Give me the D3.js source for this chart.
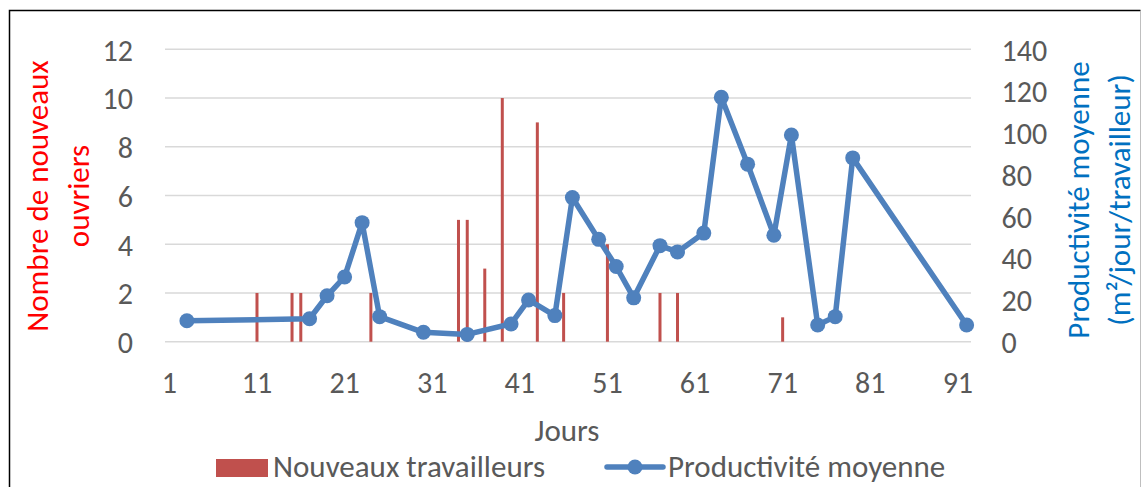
<!DOCTYPE html>
<html>
<head>
<meta charset="utf-8">
<script src="https://cdn.jsdelivr.net/npm/d3@7"></script>
<style>
  html, body { margin: 0; padding: 0; background: #fff; }
  svg { display: block; }
  text { font-family: Carlito, Lato, "Open Sans", sans-serif; }
</style>
</head>
<body>
<svg id="chart" width="1142" height="487"></svg>
<script>
// ---- data ----
const days = d3.range(1, 93);
const xTickLabels = [1, 11, 21, 31, 41, 51, 61, 71, 81, 91];
const leftTicks = [0, 2, 4, 6, 8, 10, 12];
const rightTicks = [0, 20, 40, 60, 80, 100, 120, 140];

const barDays   = [11, 15, 16, 24, 34, 35, 37, 39, 43, 46, 51, 57, 59, 71];
const barValues = [2, 2, 2, 2, 5, 5, 3, 10, 9, 2, 4, 2, 2, 1];

const lineDays   = [3, 17, 19, 21, 23, 25, 30, 35, 40, 42, 45, 47, 50, 52, 54, 57, 59, 62, 64, 67, 70, 72, 75, 77, 79, 92];
const lineValues = [10, 11, 22, 31, 57, 12, 4.5, 3.5, 8.5, 20, 12.5, 69, 49, 36, 21, 46, 43, 52, 117, 85, 51, 99, 8, 12, 88, 8];

const seriesNames = ["Nouveaux travailleurs", "Productivité moyenne"];

// ---- layout ----
const svg = d3.select("#chart");
const plot = { left: 165, right: 971, top: 49.3, bottom: 341.7 };
const barColor = "#C0504D";
const lineColor = "#4F81BD";
const textColor = "#595959";
const fs = "30px";

// frame
svg.append("path").attr("d", "M9.5,487 L9.5,10.5 L1140.5,10.5")
  .attr("fill", "none").attr("stroke", "#000").attr("stroke-width", 1.5);
svg.append("line").attr("x1", 1140.5).attr("x2", 1140.5).attr("y1", 11).attr("y2", 487)
  .attr("stroke", "#bfbfbf").attr("stroke-width", 1);

const x = d3.scaleBand().domain(days).range([plot.left, plot.right]).padding(0);
const yL = d3.scaleLinear().domain([0, 12]).range([plot.bottom, plot.top]);
const yR = d3.scaleLinear().domain([0, 140]).range([plot.bottom, plot.top]);
const cx = d => x(d) + x.bandwidth() / 2;

// gridlines
svg.append("g").selectAll("line").data(leftTicks).join("line")
  .attr("x1", plot.left).attr("x2", plot.right)
  .attr("y1", d => yL(d)).attr("y2", d => yL(d))
  .attr("stroke", "#D9D9D9").attr("stroke-width", 1.5);

// left axis
const gL = svg.append("g").attr("transform", `translate(${plot.left},0)`)
  .call(d3.axisLeft(yL).tickValues(leftTicks).tickSize(0).tickPadding(32));
gL.select(".domain").remove();
gL.selectAll("text").attr("fill", textColor).style("font-size", fs)
  .attr("dy", "0.36em");

// right axis
const gR = svg.append("g").attr("transform", `translate(${plot.right},0)`)
  .call(d3.axisRight(yR).tickValues(rightTicks).tickSize(0).tickPadding(30.5));
gR.select(".domain").remove();
gR.selectAll("text").attr("fill", textColor).style("font-size", fs)
  .attr("dy", "0.36em");

// bottom axis
const gB = svg.append("g").attr("transform", `translate(0,${plot.bottom})`)
  .call(d3.axisBottom(x).tickValues(xTickLabels).tickSize(0).tickPadding(30));
gB.select(".domain").remove();
gB.selectAll("text").attr("fill", textColor).style("font-size", fs);

// bars
svg.append("g").selectAll("rect").data(barDays.map((d, i) => ({ d, v: barValues[i] }))).join("rect")
  .attr("x", p => cx(p.d) - 1.5).attr("width", 3)
  .attr("y", p => yL(p.v)).attr("height", p => yL(0) - yL(p.v))
  .attr("fill", barColor);

// line
const pts = lineDays.map((d, i) => ({ d, v: lineValues[i] }));
svg.append("path").datum(pts)
  .attr("d", d3.line().x(p => cx(p.d)).y(p => yR(p.v)))
  .attr("fill", "none").attr("stroke", lineColor).attr("stroke-width", 5.5)
  .attr("stroke-linejoin", "round").attr("stroke-linecap", "round");
svg.append("g").selectAll("circle").data(pts).join("circle")
  .attr("cx", p => cx(p.d)).attr("cy", p => yR(p.v)).attr("r", 7.5)
  .attr("fill", lineColor);

// axis titles
const leftTitle = svg.append("text").attr("transform", "translate(0,196) rotate(-90)")
  .attr("text-anchor", "middle").attr("fill", "#FF0000").style("font-size", "31px");
leftTitle.append("tspan").attr("x", 0).attr("y", 48).text("Nombre de nouveaux");
leftTitle.append("tspan").attr("x", 0).attr("y", 89).text("ouvriers");

const rightTitle = svg.append("text").attr("transform", "translate(0,200) rotate(-90)")
  .attr("text-anchor", "middle").attr("fill", "#0070C0").style("font-size", "31px");
rightTitle.append("tspan").attr("x", 0).attr("y", 1089).text("Productivité moyenne");
rightTitle.append("tspan").attr("x", 0).attr("y", 1130).text("(m²/jour/travailleur)");

svg.append("text").attr("x", 567).attr("y", 441).attr("text-anchor", "middle")
  .attr("fill", textColor).style("font-size", "31px").text("Jours");

// legend
svg.append("rect").attr("x", 216).attr("y", 459).attr("width", 52).attr("height", 18).attr("fill", barColor);
svg.append("text").attr("x", 273).attr("y", 477).attr("fill", textColor).style("font-size", "31px").text(seriesNames[0]);
svg.append("line").attr("x1", 607).attr("x2", 663).attr("y1", 467).attr("y2", 467)
  .attr("stroke", lineColor).attr("stroke-width", 5.5).attr("stroke-linecap", "round");
svg.append("circle").attr("cx", 635).attr("cy", 467).attr("r", 7.5).attr("fill", lineColor);
svg.append("text").attr("x", 668).attr("y", 477).attr("fill", textColor).style("font-size", "31px").text(seriesNames[1]);
</script>
</body>
</html>
